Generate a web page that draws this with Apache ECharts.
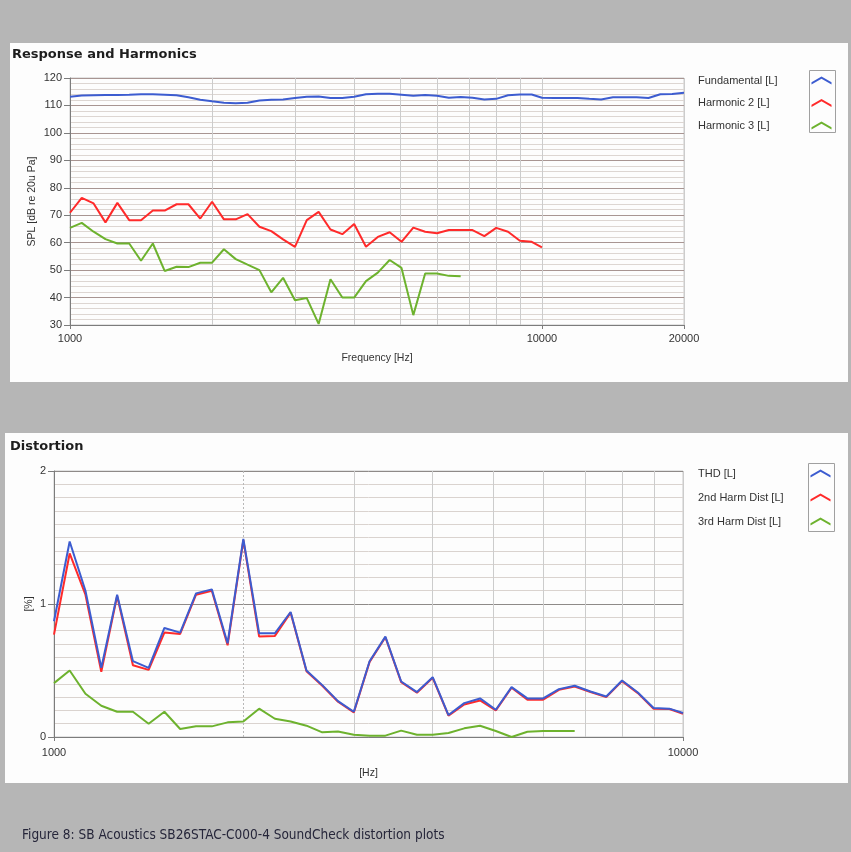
<!DOCTYPE html>
<html>
<head>
<meta charset="utf-8">
<script src="https://cdn.jsdelivr.net/npm/echarts@6/dist/echarts.min.js"></script>
<style>
  html, body { margin: 0; padding: 0; background: #b6b6b6; }
  #chart { width: 851px; height: 852px; }
</style>
</head>
<body>
<div id="chart"></div>
<script>
// Measurement frequencies, 1/12-octave steps (Hz)
const freqHz = [
  1000, 1059, 1122, 1189, 1260, 1335, 1414, 1498, 1587, 1682, 1782, 1888,
  2000, 2119, 2245, 2378, 2520, 2670, 2828, 2997, 3175, 3364, 3564, 3776,
  4000, 4238, 4490, 4757, 5040, 5339, 5657, 5993, 6350, 6727, 7127, 7551,
  8000, 8476, 8980, 9514, 10000, 10595, 11225, 11892, 12599, 13348, 14142,
  14983, 15874, 16818, 17818, 18877, 20000
];

// Response and harmonics, SPL in dB re 20 uPa
const fundamentalDb = [
  113.2, 113.6, 113.7, 113.8, 113.8, 113.9, 114.1, 114.1, 113.9, 113.7, 113.0, 112.1,
  111.5, 111.0, 110.8, 111.0, 111.8, 112.1, 112.2, 112.7, 113.2, 113.3, 112.7, 112.7,
  113.2, 114.1, 114.3, 114.3, 113.9, 113.5, 113.8, 113.5, 112.8, 113.1, 112.8, 112.2,
  112.4, 113.7, 114.0, 114.0, 112.8, 112.7, 112.7, 112.7, 112.4, 112.2, 113.0,
  113.0, 113.0, 112.7, 114.1, 114.2, 114.6
];
const harmonic2Db = [
  70.9, 76.3, 74.3, 67.4, 74.5, 68.2, 68.2, 71.7, 71.7, 74.0, 74.0, 68.8,
  74.9, 68.5, 68.5, 70.4, 65.8, 64.2, 61.2, 58.5, 68.2, 71.2, 64.8, 63.1,
  66.8, 58.5, 62.1, 63.8, 60.3, 65.5, 64.0, 63.4, 64.6, 64.6, 64.6, 62.4,
  65.4, 64.0, 60.7, 60.3, 58.3
];
const harmonic3Db = [
  65.4, 67.2, 64.0, 61.3, 59.7, 59.7, 53.4, 59.7, 49.7, 51.2, 51.1, 52.7,
  52.7, 57.6, 54.0, 52.0, 50.0, 41.9, 47.2, 39.0, 39.8, 30.4, 46.7, 40.0,
  40.0, 46.0, 49.1, 53.7, 50.8, 33.6, 48.8, 48.8, 47.9, 47.8
];

// Distortion, percent
const thdPct = [
  0.87, 1.47, 1.10, 0.52, 1.07, 0.57, 0.52, 0.82, 0.785, 1.08, 1.11, 0.705,
  1.49, 0.78, 0.78, 0.94, 0.50, 0.39, 0.27, 0.19, 0.57, 0.755, 0.417, 0.338,
  0.45, 0.165, 0.255, 0.29, 0.205, 0.375, 0.29, 0.29, 0.36, 0.385, 0.342, 0.305,
  0.425, 0.335, 0.218, 0.213, 0.18
];
const harm2Pct = [
  0.77, 1.38, 1.07, 0.49, 1.06, 0.54, 0.505, 0.785, 0.775, 1.07, 1.10, 0.69,
  1.48, 0.755, 0.76, 0.935, 0.495, 0.385, 0.265, 0.185, 0.565, 0.75, 0.412, 0.333,
  0.445, 0.16, 0.245, 0.275, 0.2, 0.37, 0.28, 0.28, 0.355, 0.38, 0.338, 0.3,
  0.42, 0.33, 0.213, 0.21, 0.175
];
const harm3Pct = [
  0.405, 0.50, 0.325, 0.235, 0.19, 0.19, 0.10, 0.19, 0.06, 0.08, 0.08, 0.11,
  0.117, 0.213, 0.137, 0.117, 0.085, 0.035, 0.042, 0.017, 0.01, 0.01, 0.048, 0.017,
  0.017, 0.03, 0.065, 0.085, 0.045, 0.0, 0.04, 0.045, 0.045, 0.045
];

const responseNames = ['Fundamental [L]', 'Harmonic 2 [L]', 'Harmonic 3 [L]'];
const distortionNames = ['THD [L]', '2nd Harm Dist [L]', '3rd Harm Dist [L]'];
const gridFreqs = [2000, 3000, 4000, 5000, 6000, 7000, 8000, 9000];
const splRange = [30, 120, 10];
const pctRange = [0, 2, 1];
const caption = 'Figure 8: SB Acoustics SB26STAC-C000-4 SoundCheck distortion plots';

const BLUE = '#3c5cd0';
const RED = '#ff2a2a';
const GREEN = '#6db22e';
const FONT = 'Liberation Sans';
const CHEVRON = 'path://M0,7 L12,0 L24,7 L24,9.6 L12,2.6 L0,9.6 Z';

function pairs(values) {
  return values.map((v, i) => [freqHz[i], v]);
}

const labelText = { color: '#333', fontFamily: FONT, fontSize: 11 };

function freqAxis(gridIndex, max, name, nameGap, labelMargin) {
  return {
    gridIndex, type: 'log', logBase: 10, min: 1000, max,
    name, nameLocation: 'middle', nameGap, nameMoveOverlap: false,
    nameTextStyle: { ...labelText, fontSize: 10.5 },
    axisLine: { lineStyle: { color: '#7c7c7c', width: 1 } },
    axisTick: { show: true, length: 4, lineStyle: { color: '#7c7c7c' } },
    axisLabel: { ...labelText, margin: labelMargin, formatter: v => String(Math.round(v)) },
    splitLine: { show: true, lineStyle: { color: '#cccccc', width: 1 } },
    minorTick: { show: false },
    minorSplitLine: { show: false }
  };
}

function gridMarks(dotted2k) {
  return {
    silent: true,
    z: 1,
    symbol: ['none', 'none'],
    label: { show: false },
    emphasis: { disabled: true },
    lineStyle: { type: 'solid', width: 1, color: '#cccccc' },
    data: gridFreqs.map(f => (dotted2k && f === 2000)
      ? { xAxis: f, lineStyle: { type: [2, 2], color: '#b8b8b8' } }
      : { xAxis: f })
  };
}

function lineSeries(name, values, color, axis, z, extra) {
  return Object.assign({
    name, type: 'line', xAxisIndex: axis, yAxisIndex: axis,
    data: pairs(values), showSymbol: false, symbol: 'none',
    lineStyle: { width: 2, color }, itemStyle: { color },
    emphasis: { disabled: true }, z
  }, extra || {});
}

function legendBlock(names, top, itemGap, textWidth) {
  return {
    data: names, orient: 'vertical', left: 698, top, padding: 0,
    itemGap, itemWidth: 23, itemHeight: 8, align: 'right',
    icon: CHEVRON, itemStyle: { borderWidth: 0 },
    formatter: n => '{t|' + n + '}',
    textStyle: {
      ...labelText, width: textWidth,
      rich: { t: { align: 'left', fontFamily: FONT, fontSize: 11, color: '#333' } }
    }
  };
}

const chart = echarts.init(document.getElementById('chart'), null, { renderer: 'canvas' });

chart.setOption({
  animation: false,
  backgroundColor: '#b6b6b6',
  title: [
    { text: 'Response and Harmonics', left: 12, top: 48, padding: 0,
      textStyle: { fontFamily: 'DejaVu Sans', fontWeight: 'bold', fontSize: 13, color: '#1e1e1e' } },
    { text: 'Distortion', left: 10, top: 440, padding: 0,
      textStyle: { fontFamily: 'DejaVu Sans', fontWeight: 'bold', fontSize: 13, color: '#1e1e1e' } }
  ],
  graphic: [
    { type: 'rect', z: -10, shape: { x: 10, y: 43, width: 838, height: 339 }, style: { fill: '#fdfdfd' } },
    { type: 'rect', z: -10, shape: { x: 5, y: 433, width: 843, height: 350 }, style: { fill: '#fdfdfd' } },
    { type: 'rect', z: 5, shape: { x: 809.5, y: 70.5, width: 26, height: 62 }, style: { fill: 'none', stroke: '#a0a0a0', lineWidth: 1 } },
    { type: 'rect', z: 5, shape: { x: 808.5, y: 463.5, width: 26, height: 68 }, style: { fill: 'none', stroke: '#a0a0a0', lineWidth: 1 } },
    { type: 'text', z: 5, x: 22, y: 835,
      style: { text: caption, fill: '#26263a', font: '13.5px "Liberation Sans Narrow", "DejaVu Sans Condensed", sans-serif', verticalAlign: 'middle' } }
  ],
  legend: [
    legendBlock(responseNames, 75, 11.5, 107),
    legendBlock(distortionNames, 468, 13, 106)
  ],
  grid: [
    { left: 70, top: 78, width: 614, height: 247, show: true, borderColor: '#c8c8c8', borderWidth: 1, backgroundColor: 'transparent' },
    { left: 54, top: 471, width: 629, height: 266, show: true, borderColor: '#c8c8c8', borderWidth: 1, backgroundColor: 'transparent' }
  ],
  xAxis: [
    freqAxis(0, 20000, 'Frequency [Hz]', 28, 8),
    freqAxis(1, 10000, '[Hz]', 31, 10)
  ],
  yAxis: [
    {
      gridIndex: 0, type: 'value', min: splRange[0], max: splRange[1], interval: splRange[2],
      name: 'SPL [dB re 20u Pa]', nameLocation: 'middle', nameGap: 32, nameMoveOverlap: false,
      nameTextStyle: { ...labelText, fontSize: 10.5 },
      axisLine: { show: true, lineStyle: { color: '#7c7c7c' } },
      axisTick: { show: true, length: 6, lineStyle: { color: '#7c7c7c' } },
      axisLabel: { ...labelText, margin: 8 },
      splitLine: { show: true, lineStyle: { color: '#a89592', width: 1 } },
      minorTick: { show: false, splitNumber: 5 },
      minorSplitLine: { show: true, lineStyle: { color: '#ddd6d2', width: 1 } }
    },
    {
      gridIndex: 1, type: 'value', min: pctRange[0], max: pctRange[1], interval: pctRange[2],
      name: '[%]', nameLocation: 'middle', nameGap: 19, nameMoveOverlap: false,
      nameTextStyle: { ...labelText, fontSize: 10.5 },
      axisLine: { show: true, lineStyle: { color: '#7c7c7c' } },
      axisTick: { show: true, length: 6, lineStyle: { color: '#7c7c7c' } },
      axisLabel: { ...labelText, margin: 8 },
      splitLine: { show: true, lineStyle: { color: '#8e8a88', width: 1 } },
      minorTick: { show: false, splitNumber: 10 },
      minorSplitLine: { show: true, lineStyle: { color: '#dad3cf', width: 1 } }
    }
  ],
  series: [
    lineSeries(responseNames[0], fundamentalDb, BLUE, 0, 4, { markLine: gridMarks(false) }),
    lineSeries(responseNames[1], harmonic2Db, RED, 0, 3),
    lineSeries(responseNames[2], harmonic3Db, GREEN, 0, 3),
    lineSeries(distortionNames[1], harm2Pct, RED, 1, 3),
    lineSeries(distortionNames[0], thdPct, BLUE, 1, 4, { markLine: gridMarks(true) }),
    lineSeries(distortionNames[2], harm3Pct, GREEN, 1, 3)
  ]
});
</script>
</body>
</html>
